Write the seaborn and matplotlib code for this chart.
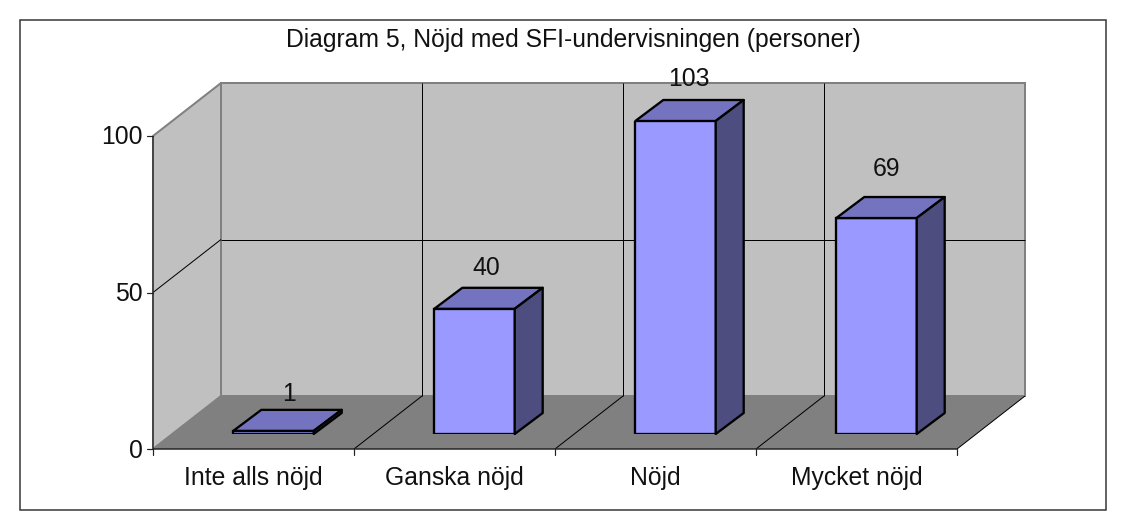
import matplotlib
matplotlib.use("Agg")
import matplotlib.pyplot as plt
from matplotlib.patches import Polygon, Rectangle
from matplotlib.transforms import Affine2D
import pandas as pd
import seaborn as sns

categories = ["Inte alls nöjd", "Ganska nöjd", "Nöjd", "Mycket nöjd"]
values = [1, 40, 103, 69]
y_ticks = [0, 50, 100]
title = "Diagram 5, Nöjd med SFI-undervisningen (personer)"

W, H, DPI = 1126, 527, 100
FONT = ["Liberation Sans", "DejaVu Sans"]
FS = 17.8
sns.set_theme(style="white")
plt.rcParams["font.family"] = FONT
PX = 72 / DPI

fig = plt.figure(figsize=(W / DPI, H / DPI), dpi=DPI, facecolor="white")
# axes = the plane of the bar fronts
ax = fig.add_axes([173 / W, 1 - 434 / H, 804 / W, 313 / H])
df = pd.DataFrame({"cat": categories, "val": values})
sns.barplot(data=df, x="cat", y="val", ax=ax, color="#9999FF", saturation=1, width=0.4,
            edgecolor="black", linewidth=2.3 * PX, zorder=3)
ax.set_ylim(0, 100)
ax.set_xlim(-0.5, 3.5)
ax.patch.set_visible(False)
ax.set_xlabel("")
ax.set_ylabel("")
ax.set_xticks([])
ax.set_yticks([])
for s in ax.spines.values():
    s.set_visible(False)

def shifted(dx, dy):
    return ax.transData + Affine2D().translate(dx, dy)

FRONT = shifted(-20, -15)
BACK = shifted(48, 38)
DEPTH = shifted(28, 21)
x0, x1 = -0.5, 3.5

def to_px(tr, x, y):
    return tuple(tr.transform((x, y)))

def poly(points, **kw):
    p = Polygon([to_px(t, x, y) for t, x, y in points], closed=True,
                transform=Affine2D(), clip_on=False, **kw)
    ax.add_patch(p)
    return p

def seg(a, b, color="black", lw=1.0, z=1):
    (xa, ya), (xb, yb) = to_px(*a), to_px(*b)
    ax.add_line(plt.Line2D([xa, xb], [ya, yb], transform=Affine2D(), color=color,
                           lw=lw * PX, clip_on=False, zorder=z, solid_capstyle="butt"))

wall, floor = "#C0C0C0", "#808080"
poly([(BACK, x0, 0), (BACK, x1, 0), (BACK, x1, 100), (BACK, x0, 100)], fc=wall, ec="#808080", lw=2 * PX, zorder=0.5)
poly([(FRONT, x0, 0), (BACK, x0, 0), (BACK, x0, 100), (FRONT, x0, 100)], fc=wall, ec="#808080", lw=2 * PX, zorder=0.6)
poly([(FRONT, x0, 0), (FRONT, x1, 0), (BACK, x1, 0), (BACK, x0, 0)], fc=floor, ec="none", zorder=0.7)

# gridlines
seg((FRONT, x0, 50), (BACK, x0, 50))
seg((BACK, x0, 50), (BACK, x1, 50))
for k in range(1, 4):
    xk = k - 0.5
    seg((BACK, xk, 0), (BACK, xk, 100))
    seg((FRONT, xk, 0), (BACK, xk, 0))
seg((FRONT, x1, 0), (BACK, x1, 0))

# axis lines, ticks
seg((FRONT, x0, 0), (FRONT, x0, 100), color="#333333", lw=1.5, z=2)
seg((FRONT, x0, 0), (FRONT, x1, 0), color="#222222", lw=1.5, z=2)
for k in range(5):
    xk = k - 0.5
    a = to_px(FRONT, xk, 0)
    ax.add_line(plt.Line2D([a[0], a[0]], [a[1], a[1] - 6], transform=Affine2D(), color="#222222",
                           lw=1.2 * PX, clip_on=False, zorder=2))
for t in y_ticks:
    a = to_px(FRONT, x0, t)
    ax.add_line(plt.Line2D([a[0] - 6, a[0]], [a[1], a[1]], transform=Affine2D(), color="#222222",
                           lw=1.2 * PX, clip_on=False, zorder=2))
    ax.text(a[0] - 10, a[1] + 1, str(t), transform=Affine2D(), ha="right", va="center_baseline",
            fontsize=FS, color="#111111")

# 3-D faces of the bars
half = 0.2
for i, v in enumerate(values):
    v = min(v, 100)
    poly([(ax.transData, i - half, v), (ax.transData, i + half, v), (DEPTH, i + half, v), (DEPTH, i - half, v)],
         fc="#7373BF", ec="black", lw=2.3 * PX, zorder=3.1, joinstyle="round")
    poly([(ax.transData, i + half, 0), (DEPTH, i + half, 0), (DEPTH, i + half, v), (ax.transData, i + half, v)],
         fc="#4D4D80", ec="black", lw=2.3 * PX, zorder=3.1, joinstyle="round")

# data labels
label_nudge = [(15, 39), (12, 43), (13, 44), (10, 52)]
for i, (v, (dx, dy)) in enumerate(zip(values, label_nudge)):
    a = to_px(shifted(dx, dy), i, min(v, 100))
    ax.text(a[0], a[1], str(v), transform=Affine2D(), ha="center", va="center_baseline",
            fontsize=FS, color="#111111", zorder=5, clip_on=False)

# category labels
for i, c in enumerate(categories):
    a = to_px(FRONT, i, 0)
    ax.text(a[0], a[1] - 26.5, c, transform=Affine2D(), ha="center", va="center_baseline",
            fontsize=FS, color="#111111", clip_on=False)

fig.text(573 / W, 1 - 38 / H, title, ha="center", va="center_baseline", fontsize=FS, color="#111111")
fig.add_artist(Rectangle((20 / W, 1 - 510 / H), 1086 / W, 490 / H, transform=fig.transFigure,
                         fc="none", ec="#333333", lw=1.5 * PX))
fig.savefig("out.png", dpi=DPI, facecolor="white")
